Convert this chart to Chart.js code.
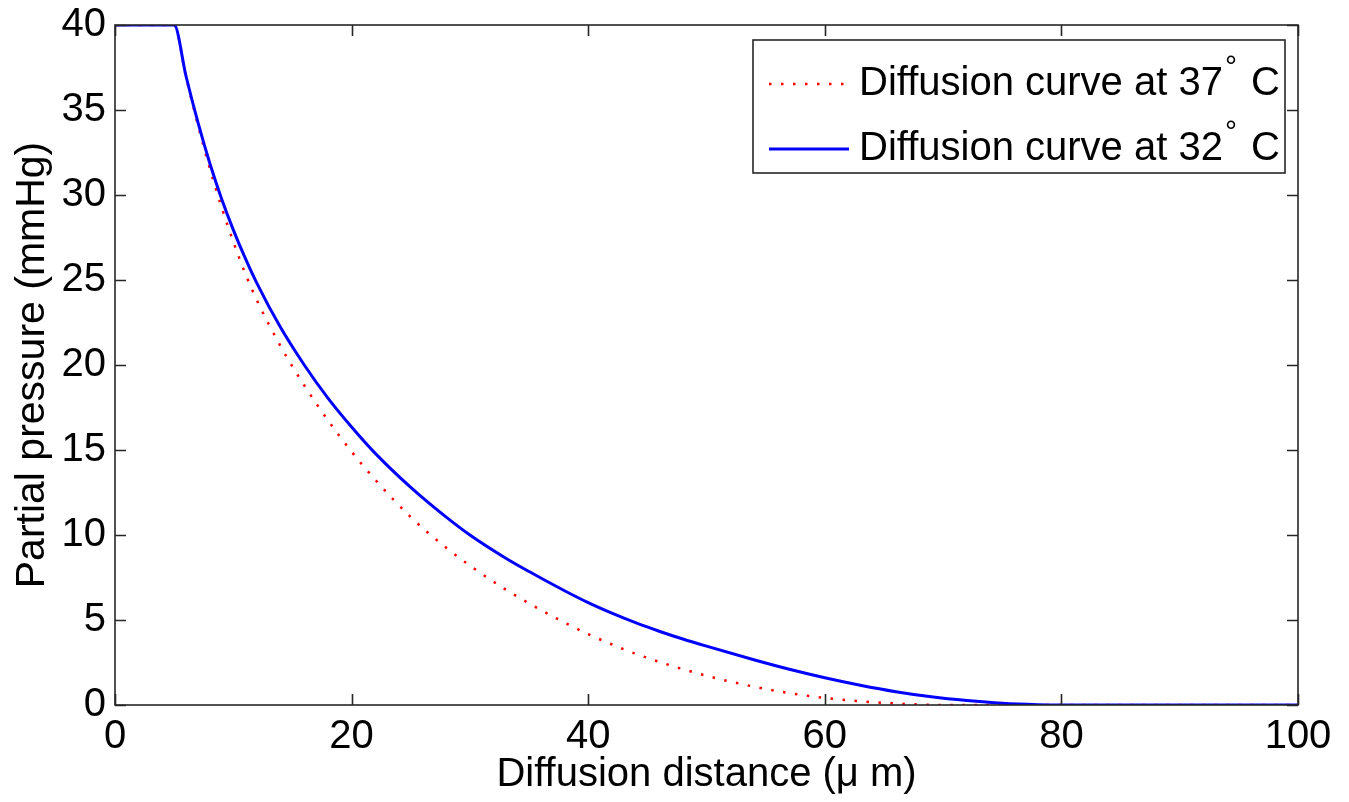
<!DOCTYPE html>
<html>
<head>
<meta charset="utf-8">
<script src="https://cdn.jsdelivr.net/npm/chart.js@4.4.1/dist/chart.umd.min.js"></script>
<style>
  html, body { margin: 0; padding: 0; background: #fff; }
  #wrap { width: 1349px; height: 802px; }
</style>
</head>
<body>
<div id="wrap"><canvas id="diffChart" width="1349" height="802"></canvas></div>
<script>
// values (distance in µm, pressure in mmHg)
const dist37 = [0, 5, 6, 7, 8, 9, 10, 11, 12, 14, 16, 18, 20, 22, 25, 28, 30, 33, 35, 38, 40, 43, 46, 50, 54, 57, 60, 63, 66, 68, 70, 100];
const press37 = [40, 40, 36.95, 34.15, 31.6, 29.3, 27.25, 25.4, 23.8, 21.1, 18.8, 16.75, 14.9, 13.25, 11.05, 9.25, 8.2, 6.8, 5.98, 4.85, 4.17, 3.28, 2.54, 1.72, 1.08, 0.7, 0.42, 0.22, 0.09, 0.03, 0, 0];

const dist32 = [0, 5, 6, 7, 8, 9, 10, 11, 12, 14, 16, 18, 20, 22, 25, 28, 30, 33, 35, 38, 40, 42, 44, 46, 48, 50, 54, 57, 60, 63, 66, 69, 72, 75, 78, 80, 100];
const press32 = [40, 40, 37.0, 34.3, 31.9, 29.8, 27.95, 26.3, 24.8, 22.2, 20.0, 18.05, 16.35, 14.8, 12.8, 11.05, 10.0, 8.65, 7.85, 6.72, 6.02, 5.4, 4.84, 4.34, 3.88, 3.46, 2.66, 2.1, 1.6, 1.16, 0.78, 0.48, 0.26, 0.1, 0.02, 0, 0];

const seriesNames = ["Diffusion curve at 37", "Diffusion curve at 32"];
const xTitle = "Diffusion distance (\u03bc m)";
const yTitle = "Partial pressure (mmHg)";

const FONT = "'Liberation Sans', Arial, Helvetica, sans-serif";
const BOX = "#262626";

function toPoints(xs, ys) {
  return xs.map((x, i) => ({ x, y: ys[i] }));
}

// box + inward ticks on all four sides, like the original axes
const axesBox = {
  id: "axesBox",
  afterDatasetsDraw(chart) {
    const { ctx, chartArea: a, scales } = chart;
    const tl = 11;
    ctx.save();
    ctx.strokeStyle = BOX;
    ctx.lineWidth = 1.6;
    ctx.strokeRect(a.left, a.top, a.right - a.left, a.bottom - a.top);
    ctx.beginPath();
    scales.x.ticks.forEach((t) => {
      const px = Math.round(scales.x.getPixelForValue(t.value)) + 0.5;
      ctx.moveTo(px, a.bottom); ctx.lineTo(px, a.bottom - tl);
      ctx.moveTo(px, a.top); ctx.lineTo(px, a.top + tl);
    });
    scales.y.ticks.forEach((t) => {
      const py = Math.round(scales.y.getPixelForValue(t.value)) + 0.5;
      ctx.moveTo(a.left, py); ctx.lineTo(a.left + tl, py);
      ctx.moveTo(a.right, py); ctx.lineTo(a.right - tl, py);
    });
    ctx.stroke();
    ctx.restore();
  },
};

// boxed legend in the upper right, with the raised degree sign
const boxLegend = {
  id: "boxLegend",
  afterDraw(chart) {
    const { ctx, chartArea: a } = chart;
    const ds = chart.data.datasets;
    const right = a.right - 13, top = a.top + 15;
    const w = 532, h = 133;
    const left = right - w;
    ctx.save();
    ctx.fillStyle = "#fff";
    ctx.fillRect(left, top, w, h);
    ctx.strokeStyle = BOX;
    ctx.lineWidth = 1.6;
    ctx.strokeRect(left, top, w, h);

    const rows = [top + 44, top + 109];
    rows.forEach((cy, i) => {
      const d = ds[i];
      ctx.beginPath();
      ctx.strokeStyle = d.borderColor;
      ctx.lineWidth = d.borderWidth;
      ctx.setLineDash(d.borderDash || []);
      ctx.moveTo(left + 16, cy);
      ctx.lineTo(left + 96, cy);
      ctx.stroke();
      ctx.setLineDash([]);

      ctx.fillStyle = "#000";
      ctx.textBaseline = "middle";
      ctx.font = "40px " + FONT;
      const tx = left + 106;
      ctx.fillText(seriesNames[i], tx, cy);
      const tw = ctx.measureText(seriesNames[i]).width;
      ctx.font = "30px " + FONT;
      ctx.fillText("\u00b0", tx + tw + 2, cy - 16);
      ctx.font = "40px " + FONT;
      ctx.fillText("C", tx + tw + 28, cy);
    });
    ctx.restore();
  },
};

const ctx = document.getElementById("diffChart").getContext("2d");
new Chart(ctx, {
  type: "line",
  data: {
    datasets: [
      {
        label: seriesNames[0],
        data: toPoints(dist37, press37),
        borderColor: "#ff0000",
        borderWidth: 2.5,
        borderDash: [2.5, 9.5],
        pointRadius: 0,
        cubicInterpolationMode: "monotone",
        fill: false,
        order: 1,
      },
      {
        label: seriesNames[1],
        data: toPoints(dist32, press32),
        borderColor: "#0000ff",
        borderWidth: 3,
        pointRadius: 0,
        cubicInterpolationMode: "monotone",
        fill: false,
        order: 0,
      },
    ],
  },
  options: {
    responsive: false,
    animation: false,
    devicePixelRatio: 1,
    layout: { padding: { top: 25, right: 51, left: 0, bottom: 0 } },
    plugins: { legend: { display: false }, tooltip: { enabled: false } },
    scales: {
      x: {
        type: "linear",
        min: 0,
        max: 100,
        grid: { display: false, drawTicks: false },
        border: { display: false },
        ticks: { stepSize: 20, color: "#000", padding: 8, font: { family: FONT, size: 40 } },
        title: { display: true, text: xTitle, color: "#000", padding: { top: 0, bottom: 3 }, font: { family: FONT, size: 40 } },
        afterFit: (s) => { s.height = 97; },
      },
      y: {
        min: 0,
        max: 40,
        grid: { display: false, drawTicks: false },
        border: { display: false },
        ticks: { stepSize: 5, color: "#000", padding: 9, font: { family: FONT, size: 40 } },
        title: { display: true, text: yTitle, color: "#000", padding: { top: 8, bottom: 0 }, font: { family: FONT, size: 41 } },
        afterFit: (s) => { s.width = 115; s.paddingTop = 0; s.paddingBottom = 0; },
      },
    },
  },
  plugins: [axesBox, boxLegend],
});
</script>
</body>
</html>
